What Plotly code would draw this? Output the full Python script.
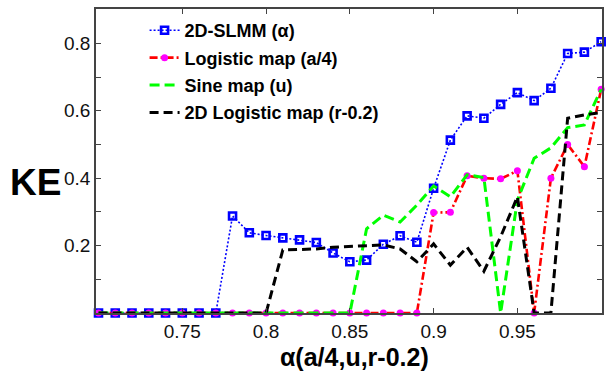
import plotly.graph_objects as go

# ---- data ----
alpha = [0.70, 0.71, 0.72, 0.73, 0.74, 0.75, 0.76, 0.77, 0.78, 0.79,
         0.80, 0.81, 0.82, 0.83, 0.84, 0.85, 0.86, 0.87, 0.88, 0.89,
         0.90, 0.91, 0.92, 0.93, 0.94, 0.95, 0.96, 0.97, 0.98, 0.99, 1.00]

ke_slmm = [0, 0, 0, 0, 0, 0, 0, 0, 0.288, 0.238,
           0.230, 0.223, 0.217, 0.209, 0.178, 0.152, 0.157, 0.204, 0.229, 0.210,
           0.370, 0.513, 0.585, 0.578, 0.619, 0.654, 0.630, 0.667, 0.770, 0.774, 0.805]

ke_logistic = [0, 0, 0, 0, 0, 0, 0, 0, 0, 0,
               0, 0, 0, 0, 0, 0, 0, 0, 0, 0,
               0.298, 0.299, 0.407, 0.400, 0.398, 0.422, 0.0, 0.400, 0.500, 0.434, 0.664]

ke_sine = [0, 0, 0, 0, 0, 0, 0, 0, 0, 0,
           0, 0, 0, 0, 0, 0, 0.25, 0.29, 0.27, 0.32,
           0.377, 0.345, 0.410, 0.402, 0.0, 0.335, 0.459, 0.490, 0.550, 0.558, 0.664]

ke_2dlog = [0, 0, 0, 0, 0, 0, 0, 0, 0, 0,
            0, 0.187, 0.188, 0.190, 0.195, 0.197, 0.200, 0.202, 0.190, 0.152,
            0.205, 0.142, 0.195, 0.124, 0.226, 0.345, 0.0, 0.0, 0.578, 0.588, 0.595]

names = ["2D-SLMM (α)", "Logistic map (a/4)", "Sine map (u)", "2D Logistic map (r-0.2)"]
x_ticks = [0.75, 0.8, 0.85, 0.9, 0.95, 1.0]
x_ticktext = ["0.75", "0.8", "0.85", "0.9", "0.95", "1"]
y_ticks = [0.2, 0.4, 0.6, 0.8]
y_minor = [0.1, 0.3, 0.5, 0.7]

FONT = "Liberation Sans, Arial, sans-serif"

fig = go.Figure()

fig.add_trace(go.Scatter(
    x=alpha, y=ke_slmm, name=names[0], mode="lines+markers", legendgroup="a",
    line=dict(color="#0000FF", width=1.6, dash="2px,2px"),
    marker=dict(symbol="square-open", size=7, color="#0000FF", line=dict(width=2.6, color="#0000FF")),
    cliponaxis=False))

fig.add_trace(go.Scatter(
    x=alpha, y=ke_logistic, name=names[1], mode="lines+markers", legendgroup="b",
    line=dict(color="#FF0000", width=2.6, dash="8px,3px,2px,3px"),
    marker=dict(symbol="circle", size=7, color="#FF00FF"),
    cliponaxis=False))

fig.add_trace(go.Scatter(
    x=alpha, y=ke_sine, name=names[2], mode="lines", legendgroup="c",
    line=dict(color="#00FF00", width=3, dash="10px,5px")))

fig.add_trace(go.Scatter(
    x=alpha, y=ke_2dlog, name=names[3], mode="lines", legendgroup="d",
    line=dict(color="#000000", width=3, dash="9px,5px")))

axis_common = dict(
    showgrid=False, zeroline=False, showline=True, linecolor="#444", linewidth=1.5,
    mirror="ticks", ticks="inside", ticklen=5, tickwidth=1, tickcolor="#444",
    tickfont=dict(family=FONT, size=19, color="#111"))

fig.update_xaxes(range=[0.6985, 1.0005], tickvals=x_ticks, ticktext=x_ticktext, **axis_common)
fig.update_yaxes(range=[0, 0.902], tickvals=y_ticks, ticktext=["0.2", "0.4", "0.6", "0.8"],
                 minor=dict(tickvals=y_minor, ticks="inside", ticklen=5, tickcolor="#444"),
                 **axis_common)

fig.add_annotation(text="KE", xref="paper", yref="paper", x=-0.12, y=0.428,
                   showarrow=False, xanchor="center", yanchor="middle",
                   font=dict(family=FONT, size=37, color="black", weight="bold"))
fig.add_annotation(text="α(a/4,u,r-0.2)", xref="paper", yref="paper", x=0.51, y=-0.145,
                   showarrow=False, xanchor="center", yanchor="middle",
                   font=dict(family=FONT, size=25, color="black", weight="bold"))

fig.update_layout(
    width=606, height=381,
    margin=dict(l=96, r=2, t=9, b=68),
    paper_bgcolor="white", plot_bgcolor="white",
    legend=dict(x=0.096, y=0.99, xanchor="left", yanchor="top",
                bgcolor="rgba(0,0,0,0)", borderwidth=0,
                traceorder="grouped", tracegroupgap=1,
                font=dict(family=FONT, size=18, color="black", weight="bold")),
)

fig.write_html("out.html")
